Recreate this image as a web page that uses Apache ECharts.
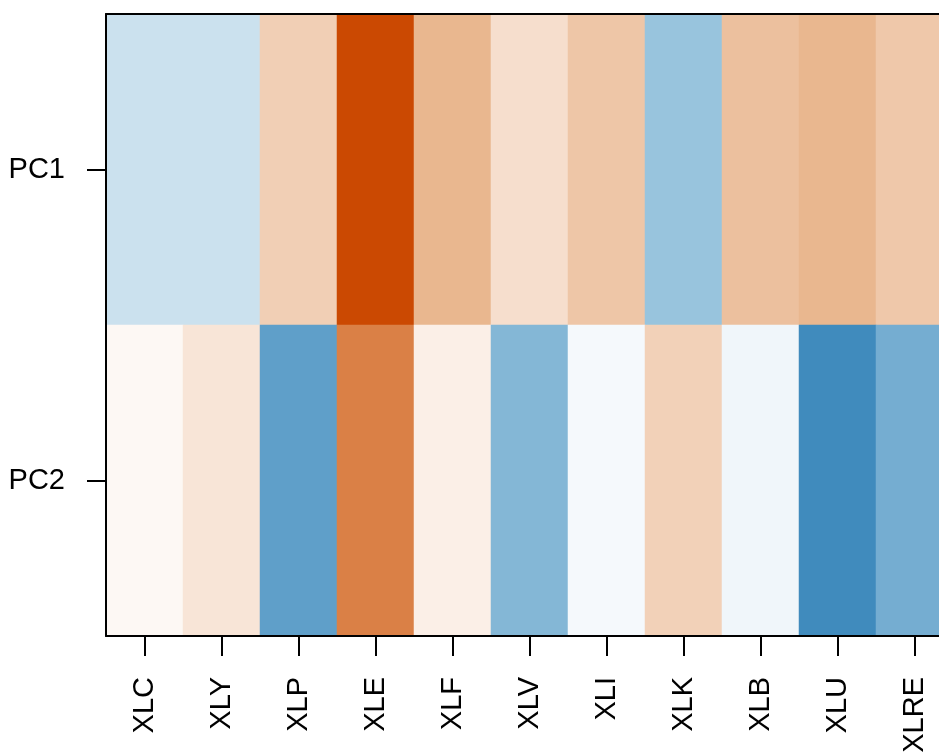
<!DOCTYPE html>
<html>
<head>
<meta charset="utf-8">
<script src="https://cdn.jsdelivr.net/npm/echarts@6/dist/echarts.min.js"></script>
<style>
  html, body { margin: 0; padding: 0; background: #fff; }
  #chart { width: 939px; height: 753px; }
</style>
</head>
<body>
<div id="chart"></div>
<script>
// Sector ETFs along the x axis, principal components along the y axis
const sectors = ['XLC', 'XLY', 'XLP', 'XLE', 'XLF', 'XLV', 'XLI', 'XLK', 'XLB', 'XLU', 'XLRE'];
const components = ['PC1', 'PC2'];

// Scaled loadings of each sector on the two components
const pc1 = [-0.21, -0.21, 0.27, 1.00, 0.40, 0.19, 0.32, -0.41, 0.35, 0.40, 0.31];
const pc2 = [0.04, 0.15, -0.64, 0.70, 0.09, -0.49, -0.04, 0.26, -0.06, -0.78, -0.55];

// Diverging blue-white-orange ramp, stops every 0.2 from -1 to 1
const ramp = ['#17649F', '#3C88BB', '#68A5CD', '#9BC6DE', '#CDE2EF', '#FFFFFF',
              '#F6DCCA', '#E9B78F', '#DF925E', '#D56D2E', '#CB4902'];

const loadings = [pc1, pc2];
const cells = [];
loadings.forEach((row, r) => {
  row.forEach((v, c) => cells.push([c, r, v]));
});

const font = 'Liberation Sans, Arial, Helvetica, sans-serif';
const chart = echarts.init(document.getElementById('chart'), null, { renderer: 'canvas' });

const boxLine = { show: true, lineStyle: { color: '#000', width: 2 } };
const tickStyle = { color: '#000', width: 2 };

chart.setOption({
  animation: false,
  backgroundColor: '#fff',
  grid: { left: 106, top: 14, width: 847, height: 622, containLabel: false, outerBoundsMode: 'none' },
  xAxis: [
    {
      type: 'category',
      data: sectors,
      position: 'bottom',
      z: 10,
      axisLine: boxLine,
      axisTick: { show: true, alignWithLabel: true, length: 20, lineStyle: tickStyle },
      axisLabel: { rotate: 90, margin: 41, fontSize: 29, color: '#000', fontFamily: font, interval: 0 },
      splitLine: { show: false }
    },
    {
      type: 'category',
      data: sectors,
      position: 'top',
      z: 10,
      axisLine: boxLine,
      axisTick: { show: false },
      axisLabel: { show: false }
    }
  ],
  yAxis: [
    {
      type: 'category',
      data: components,
      inverse: true,
      position: 'left',
      z: 10,
      axisLine: boxLine,
      axisTick: { show: true, alignWithLabel: true, length: 19, lineStyle: tickStyle },
      axisLabel: { margin: 41, fontSize: 29, color: '#000', fontFamily: font },
      splitLine: { show: false }
    },
    {
      type: 'category',
      data: components,
      inverse: true,
      position: 'right',
      z: 10,
      axisLine: boxLine,
      axisTick: { show: false },
      axisLabel: { show: false }
    }
  ],
  visualMap: {
    show: false,
    type: 'continuous',
    min: -1,
    max: 1,
    dimension: 2,
    inRange: { color: ramp }
  },
  series: [{
    type: 'heatmap',
    data: cells,
    xAxisIndex: 0,
    yAxisIndex: 0,
    emphasis: { disabled: true },
    itemStyle: { borderWidth: 0 }
  }]
});
</script>
</body>
</html>
